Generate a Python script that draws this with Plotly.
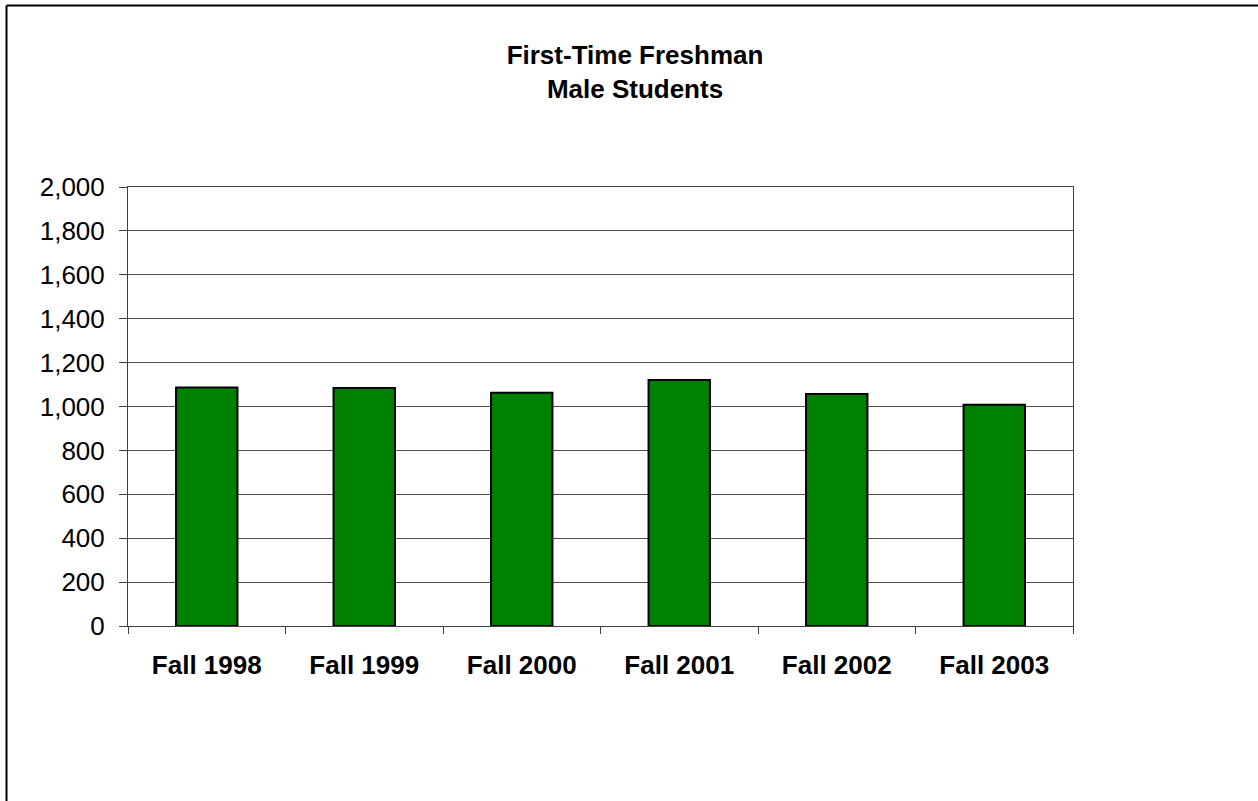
import plotly.graph_objects as go

# data
terms = ["Fall 1998", "Fall 1999", "Fall 2000", "Fall 2001", "Fall 2002", "Fall 2003"]
students = [1087, 1084, 1063, 1121, 1057, 1008]
y_ticks = [0, 200, 400, 600, 800, 1000, 1200, 1400, 1600, 1800, 2000]

W, H = 1258, 801
L, R, T, B = 128, 1073, 187, 626
FONT = "Liberation Sans, Arial, sans-serif"

fig = go.Figure()
fig.add_trace(go.Bar(
    x=terms, y=students, width=0.39,
    marker=dict(color="#008000", line=dict(color="#000000", width=2)),
))

pw, ph = R - L, B - T
# outer chart frame (only left and top edges visible)
fx = (6.5 - L) / pw
fy = (B - 5.5) / ph
fig.add_shape(type="line", xref="paper", yref="paper", x0=fx, x1=fx,
              y0=(B - H - 20) / ph, y1=fy, line=dict(color="black", width=2))
fig.add_shape(type="line", xref="paper", yref="paper", x0=fx, x1=(W + 20 - L) / pw,
              y0=fy, y1=fy, line=dict(color="black", width=2))

fig.update_layout(
    width=W, height=H,
    margin=dict(l=L, r=W - R, t=T, b=H - B),
    plot_bgcolor="white", paper_bgcolor="white",
    showlegend=False,
    font=dict(family=FONT, size=26, color="black"),
    title=dict(
        text="<b>First-Time Freshman<br>Male Students</b>",
        x=635 / W, xanchor="center", y=1 - 64 / H, yanchor="middle",
        font=dict(size=26),
    ),
)
fig.update_xaxes(
    type="category", tickson="boundaries", ticks="outside", ticklen=7,
    tickcolor="#404040", showline=True, linecolor="#404040", linewidth=1, mirror=True,
    showgrid=False, tickfont=dict(size=26, family=FONT),
    tickprefix="<b>", ticksuffix="</b>", ticklabelstandoff=16,
)
fig.update_yaxes(
    range=[0, 2000], tickvals=y_ticks, tickformat=",", ticks="outside", ticklen=8,
    tickcolor="#404040", showline=True, linecolor="#404040", linewidth=1, mirror=True,
    showgrid=True, gridcolor="#505050", gridwidth=1, zeroline=False,
    ticklabelstandoff=9, tickfont=dict(size=26, family=FONT),
)

fig.write_html("out.html", config={"displayModeBar": False},
               post_script="document.body.style.margin='0';")
